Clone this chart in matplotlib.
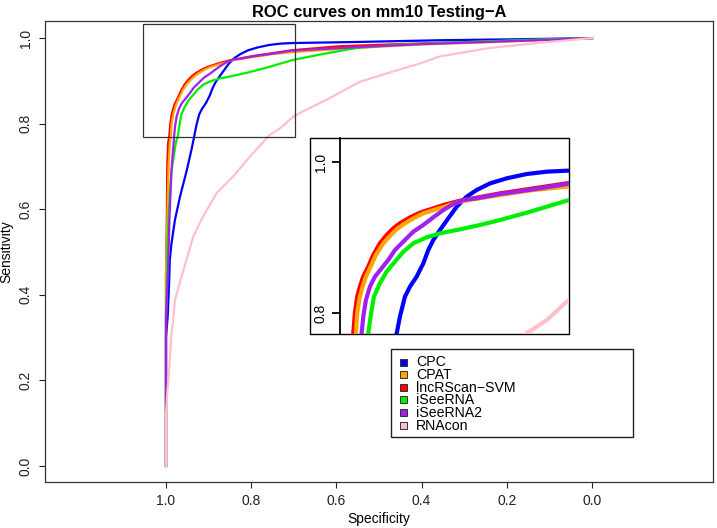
import matplotlib
matplotlib.use("Agg")
import matplotlib.pyplot as plt
from matplotlib.patches import Rectangle

plt.rcParams['font.family'] = ['Liberation Sans', 'DejaVu Sans']

methods = ["CPC", "CPAT", "lncRScan\u2212SVM", "iSeeRNA", "iSeeRNA2", "RNAcon"]
colors = ["#0000FF", "#FFA500", "#FF0000", "#00EE00", "#A020F0", "#FFC0CB"]

cpc_spec = [1.0, 1.0, 0.996, 0.993, 0.991, 0.987, 0.979, 0.967, 0.951, 0.940,
            0.9334, 0.9289, 0.9221, 0.9153, 0.9063, 0.8972, 0.8905, 0.8837, 0.8747, 0.8634,
            0.8521, 0.8385, 0.8250, 0.8069, 0.7843, 0.7572, 0.7301, 0.7030,
            0.55, 0.358, 0.2, 0.0]
cpc_sens = [0.0, 0.30, 0.35, 0.42, 0.482, 0.521, 0.575, 0.630, 0.692, 0.74,
            0.7722, 0.7951, 0.8216, 0.8349, 0.8481, 0.8658, 0.8834, 0.8967, 0.9099, 0.9254,
            0.9408, 0.9541, 0.9629, 0.9717, 0.9784, 0.9841, 0.9872, 0.9885,
            0.991, 0.995, 0.997, 1.0]

cpat_spec = [1.0, 1.0, 0.997, 0.994, 0.991,
             0.9885, 0.9867, 0.9831, 0.9794, 0.9749, 0.9686, 0.9614, 0.9514, 0.9424, 0.9334,
             0.9243, 0.9108, 0.8972, 0.8792, 0.8656, 0.8476, 0.8295, 0.7934, 0.7482, 0.7030,
             0.553, 0.4, 0.25, 0.1, 0.0]
cpat_sens = [0.0, 0.45, 0.575, 0.70, 0.755,
             0.7722, 0.8004, 0.8216, 0.8349, 0.8481, 0.8614, 0.8768, 0.8923, 0.9020, 0.9108,
             0.9174, 0.9254, 0.9320, 0.9377, 0.9417, 0.9475, 0.9506, 0.9563, 0.9629, 0.9673,
             0.977, 0.985, 0.990, 0.996, 1.0]

lnc_spec = [1.0, 1.0, 0.998, 0.997, 0.995,
            0.9921, 0.9898, 0.9867, 0.9831, 0.9786, 0.9718, 0.9650, 0.9560, 0.9469, 0.9379,
            0.9289, 0.9153, 0.9018, 0.8837, 0.8702, 0.8476, 0.8295, 0.7934, 0.7482, 0.7030,
            0.592, 0.45, 0.318, 0.15, 0.0]
lnc_sens = [0.0, 0.45, 0.575, 0.70, 0.755,
            0.7722, 0.8004, 0.8216, 0.8349, 0.8481, 0.8613, 0.8768, 0.8923, 0.9033, 0.9122,
            0.9188, 0.9267, 0.9329, 0.9387, 0.9430, 0.9488, 0.9519, 0.9585, 0.9651, 0.9718,
            0.981, 0.986, 0.990, 0.995, 1.0]

isee_spec = [1.0, 1.0, 0.995, 0.991, 0.987, 0.983, 0.977,
             0.9718, 0.9686, 0.9641, 0.9560, 0.9469, 0.9356, 0.9243, 0.9108, 0.8927, 0.8747,
             0.8476, 0.8205, 0.7934, 0.7572, 0.7301, 0.7030,
             0.631, 0.553, 0.45, 0.318, 0.15, 0.0]
isee_sens = [0.0, 0.35, 0.56, 0.638, 0.692, 0.716, 0.755,
             0.7722, 0.7951, 0.8216, 0.8393, 0.8548, 0.8680, 0.8812, 0.8923, 0.9002, 0.9055,
             0.9108, 0.9166, 0.9232, 0.9329, 0.9408, 0.9488,
             0.963, 0.977, 0.985, 0.990, 0.996, 1.0]

isee2_spec = [1.0, 1.0, 0.995, 0.992, 0.987, 0.985, 0.982,
              0.9808, 0.9785, 0.9749, 0.9695, 0.9627, 0.9537, 0.9447, 0.9356, 0.9243, 0.9108,
              0.8972, 0.8837, 0.8701, 0.8566, 0.8431, 0.8250, 0.7934, 0.7482, 0.7030,
              0.55, 0.4, 0.25, 0.1, 0.0]
isee2_sens = [0.0, 0.35, 0.458, 0.575, 0.692, 0.72, 0.755,
              0.7722, 0.7951, 0.8172, 0.8349, 0.8481, 0.8592, 0.8702, 0.8834, 0.8945, 0.9077,
              0.9166, 0.9267, 0.9364, 0.9444, 0.9497, 0.9519, 0.9576, 0.9638, 0.9709,
              0.979, 0.986, 0.991, 0.996, 1.0]

rnacon_spec = [1.0, 1.0, 0.997, 0.992, 0.987, 0.983, 0.979, 0.959, 0.936, 0.913, 0.881,
               0.842, 0.803, 0.757, 0.730, 0.703, 0.686, 0.623, 0.545, 0.467, 0.40, 0.358,
               0.240, 0.123, 0.0]
rnacon_sens = [0.0, 0.12, 0.170, 0.232, 0.310, 0.342, 0.388, 0.458, 0.536, 0.583, 0.638,
               0.677, 0.723, 0.7736, 0.7907, 0.815, 0.825, 0.856, 0.898, 0.922, 0.942, 0.957,
               0.977, 0.989, 1.0]

specs = [cpc_spec, cpat_spec, lnc_spec, isee_spec, isee2_spec, rnacon_spec]
senss = [cpc_sens, cpat_sens, lnc_sens, isee_sens, isee2_sens, rnacon_sens]
draw_order = [0, 2, 1, 3, 4, 5]

main_ticks = [1.0, 0.8, 0.6, 0.4, 0.2, 0.0]
tick_labels = ["1.0", "0.8", "0.6", "0.4", "0.2", "0.0"]
inset_ticks = [0.8, 1.0]
inset_tick_labels = ["0.8", "1.0"]
zoom_x = (1.055, 0.698)
zoom_y = (0.768, 1.033)

W, H = 717, 528
fig = plt.figure(figsize=(W / 100, H / 100), dpi=100)

def fr(x0, y0, x1, y1):
    return [x0 / W, 1 - y1 / H, (x1 - x0) / W, (y1 - y0) / H]

ax = fig.add_axes(fr(45, 21, 713, 482))
for i in draw_order:
    ax.plot(specs[i], senss[i], color=colors[i], lw=1.6, solid_joinstyle='round')
ax.set_xlim(1.284, -0.284)
ax.set_ylim(-0.0375, 1.04)
ax.set_xticks(main_ticks)
ax.set_xticklabels(tick_labels)
ax.set_yticks(main_ticks)
ax.set_yticklabels(tick_labels, rotation=90, va='center')
ax.tick_params(direction='out', length=4.3, width=0.8, labelsize=10, pad=4.5, colors='#222222')
for s in ax.spines.values():
    s.set_linewidth(0.9)
    s.set_color('#333333')
ax.set_xlabel("Specificity", fontsize=10, labelpad=3)
ax.set_ylabel("Sensitivity", fontsize=10, labelpad=4)
ax.set_title("ROC curves on mm10 Testing\u2212A", fontsize=11.9, fontweight='bold', pad=3)

ax.add_patch(Rectangle((zoom_x[0], zoom_y[0]), zoom_x[1] - zoom_x[0], zoom_y[1] - zoom_y[0],
                       fill=False, edgecolor='#333333', lw=0.9, zorder=5))

# inset
fig.add_artist(Rectangle((310 / W, 1 - 334 / H), (569 - 310) / W, (334 - 138) / H,
                         transform=fig.transFigure, fill=True, facecolor='white',
                         edgecolor='black', lw=1.0, zorder=3))
ins = fig.add_axes(fr(340, 138, 569, 334), zorder=4)
ins.patch.set_alpha(0)
for i in draw_order:
    ins.plot(specs[i], senss[i], color=colors[i], lw=3.0, solid_joinstyle='round')
ins.set_xlim(1.010, 0.70)
ins.set_ylim(0.7722, 1.0318)
for k in ['top', 'right', 'bottom']:
    ins.spines[k].set_visible(False)
ins.spines['left'].set_linewidth(1.3)
ins.set_xticks([])
ins.set_yticks(inset_ticks)
ins.set_yticklabels(inset_tick_labels, rotation=90, va='center')
ins.tick_params(axis='y', direction='out', length=5.8, width=1.3, labelsize=10, pad=3)

# legend
lx0, ly0, lx1, ly1 = 391, 349, 633, 437
fig.add_artist(Rectangle((lx0 / W, 1 - ly1 / H), (lx1 - lx0) / W, (ly1 - ly0) / H,
                         transform=fig.transFigure, facecolor='white', edgecolor='#222222',
                         lw=1.0, zorder=6))
for j, (name, c) in enumerate(zip(methods, colors)):
    yc = 362 + j * 12.6
    fig.add_artist(Rectangle(((403 - 3.5) / W, 1 - (yc + 3.5) / H), 7 / W, 7 / H,
                             transform=fig.transFigure, facecolor=c, edgecolor='#333333',
                             lw=0.7, zorder=7))
    fig.text(416 / W, 1 - (yc + 0.5) / H, name, fontsize=10.2, va='center', ha='left', zorder=7)

fig.savefig("out.png", dpi=100)
